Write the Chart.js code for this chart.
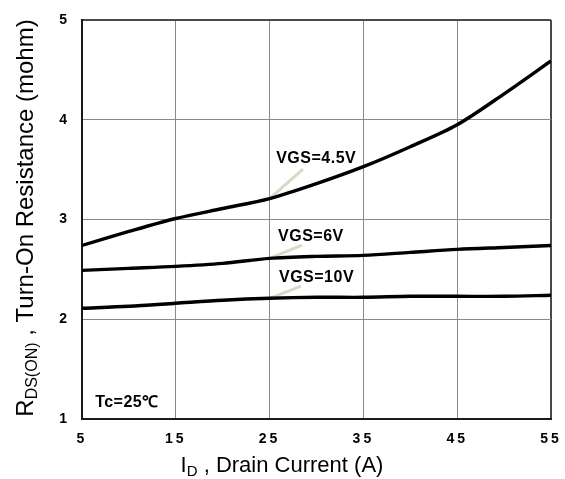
<!DOCTYPE html>
<html>
<head>
<meta charset="utf-8">
<script src="https://cdn.jsdelivr.net/npm/chart.js@4.4.1/dist/chart.umd.min.js"></script>
<style>
  body { margin: 0; background: #fff; }
  #wrap { width: 565px; height: 479px; }
</style>
</head>
<body>
<div id="wrap"><canvas id="rdsChart" width="565" height="479"></canvas></div>
<script>
// drain current (A)
let currents = [5, 10, 15, 20, 25, 30, 35, 40, 45, 50, 55];
// Rds(on) in mohm
let rdsVgs45 = [2.74, 2.88, 3.01, 3.11, 3.21, 3.36, 3.53, 3.73, 3.95, 4.26, 4.59];
let rdsVgs6  = [2.49, 2.51, 2.53, 2.56, 2.61, 2.63, 2.64, 2.67, 2.70, 2.72, 2.74];
let rdsVgs10 = [2.11, 2.13, 2.16, 2.19, 2.21, 2.22, 2.22, 2.23, 2.23, 2.23, 2.24];

let xTickValues = [5, 15, 25, 35, 45, 55];
let yTickValues = [1, 2, 3, 4, 5];

// curve labels and their leader lines (leader starts on the curve at 25A)
let curveLabels = ['VGS=4.5V', 'VGS=6V', 'VGS=10V'];
let leaderStartX = [25, 25, 25];
let leaderStartY = [3.21, 2.61, 2.21];
let leaderEndX = [28.56, 28.45, 28.35];
let leaderEndY = [3.506, 2.744, 2.333];
let labelX = [25.7, 25.9, 26.0];
let labelY = [3.607, 2.825, 2.414];

let noteText = 'Tc=25℃';
let noteX = 6.4;
let noteY = 1.16;

let toPoints = (xs, ys) => xs.map((x, i) => ({x: x, y: ys[i]}));

let curve = (label, values) => ({
    label: label,
    data: toPoints(currents, values),
    borderColor: '#000',
    borderWidth: 3.4,
    pointRadius: 0,
    tension: 0.3,
    fill: false
});

let leader = (i) => ({
    label: curveLabels[i] + ' leader',
    data: [{x: leaderStartX[i], y: leaderStartY[i]}, {x: leaderEndX[i], y: leaderEndY[i]}],
    borderColor: '#dcd8c6',
    borderWidth: 3,
    pointRadius: 0,
    tension: 0,
    fill: false
});

// draws a title made of pieces, some of them subscripts
let drawPieces = (ctx, pieces, cx, cy, angle) => {
    ctx.save();
    ctx.letterSpacing = '0px';
    ctx.translate(cx, cy);
    ctx.rotate(angle);
    let total = 0;
    pieces.forEach(p => {
        ctx.font = p.size + 'px "Liberation Sans", Arial, sans-serif';
        total += ctx.measureText(p.t).width;
    });
    let x = -total / 2;
    ctx.fillStyle = '#000';
    ctx.textBaseline = 'alphabetic';
    ctx.textAlign = 'left';
    pieces.forEach(p => {
        ctx.font = p.size + 'px "Liberation Sans", Arial, sans-serif';
        ctx.fillText(p.t, x, p.dy || 0);
        x += ctx.measureText(p.t).width;
    });
    ctx.restore();
};

let textPlugin = {
    id: 'textPlugin',
    beforeDraw: (chart) => {
        // the tick numbers are spread out in the original
        chart.ctx.letterSpacing = '3px';
    },
    beforeDatasetsDraw: (chart) => {
        chart.ctx.letterSpacing = '0px';
    },
    afterDraw: (chart) => {
        let ctx = chart.ctx;
        let xs = chart.scales.x;
        let ys = chart.scales.y;
        ctx.save();
        ctx.letterSpacing = '0.5px';
        ctx.fillStyle = '#000';
        ctx.font = 'bold 16px "Liberation Sans", Arial, sans-serif';
        ctx.textAlign = 'left';
        ctx.textBaseline = 'middle';
        curveLabels.forEach((t, i) => {
            ctx.fillText(t, xs.getPixelForValue(labelX[i]), ys.getPixelForValue(labelY[i]));
        });
        ctx.font = 'bold 16px "Liberation Sans", Arial, sans-serif';
        ctx.fillText(noteText, xs.getPixelForValue(noteX), ys.getPixelForValue(noteY));
        ctx.restore();

        drawPieces(ctx, [
            {t: 'I', size: 22},
            {t: 'D', size: 15, dy: 4},
            {t: ' , Drain Current (A)', size: 22}
        ], 282, 472, 0);

        drawPieces(ctx, [
            {t: 'R', size: 24},
            {t: 'DS(ON)', size: 16, dy: 4},
            {t: ' , Turn-On Resistance (mohm)', size: 24}
        ], 33, 218, -Math.PI / 2);
    }
};

let edgeColor = (value, lo, hi) => (value === lo || value === hi) ? '#4a4a4a' : '#8a8a8a';
let edgeWidth = (value, lo, hi) => (value === lo || value === hi) ? 2 : 1;

let tickFont = {family: '"Liberation Sans", Arial, sans-serif', size: 14, weight: 'bold'};

new Chart(document.getElementById('rdsChart'), {
    type: 'line',
    data: {
        datasets: [
            curve('VGS=4.5V', rdsVgs45),
            curve('VGS=6V', rdsVgs6),
            curve('VGS=10V', rdsVgs10),
            leader(0),
            leader(1),
            leader(2)
        ]
    },
    options: {
        responsive: false,
        animation: {duration: 0},
        layout: {padding: {left: 0, right: 14, top: 20, bottom: 0}},
        plugins: {
            legend: {display: false},
            tooltip: {enabled: false}
        },
        scales: {
            x: {
                type: 'linear',
                min: 5,
                max: 55,
                afterBuildTicks: (scale) => {
                    scale.ticks = xTickValues.map(v => ({value: v}));
                },
                afterFit: (scale) => {
                    scale.height = 60;
                    scale.paddingLeft = 0;
                    scale.paddingRight = 0;
                },
                grid: {
                    drawTicks: false,
                    color: (c) => edgeColor(c.tick.value, 5, 55),
                    lineWidth: (c) => edgeWidth(c.tick.value, 5, 55)
                },
                border: {color: '#1a1a1a', width: 2},
                ticks: {
                    padding: 12,
                    color: '#000',
                    maxRotation: 0,
                    font: tickFont
                }
            },
            y: {
                type: 'linear',
                min: 1,
                max: 5,
                afterBuildTicks: (scale) => {
                    scale.ticks = yTickValues.map(v => ({value: v}));
                },
                afterFit: (scale) => {
                    scale.width = 82;
                    scale.paddingTop = 0;
                    scale.paddingBottom = 0;
                },
                grid: {
                    drawTicks: false,
                    color: (c) => edgeColor(c.tick.value, 1, 5),
                    lineWidth: (c) => edgeWidth(c.tick.value, 1, 5)
                },
                border: {color: '#1a1a1a', width: 2},
                ticks: {
                    padding: 12,
                    color: '#000',
                    font: tickFont
                }
            }
        }
    },
    plugins: [textPlugin]
});
</script>
</body>
</html>
